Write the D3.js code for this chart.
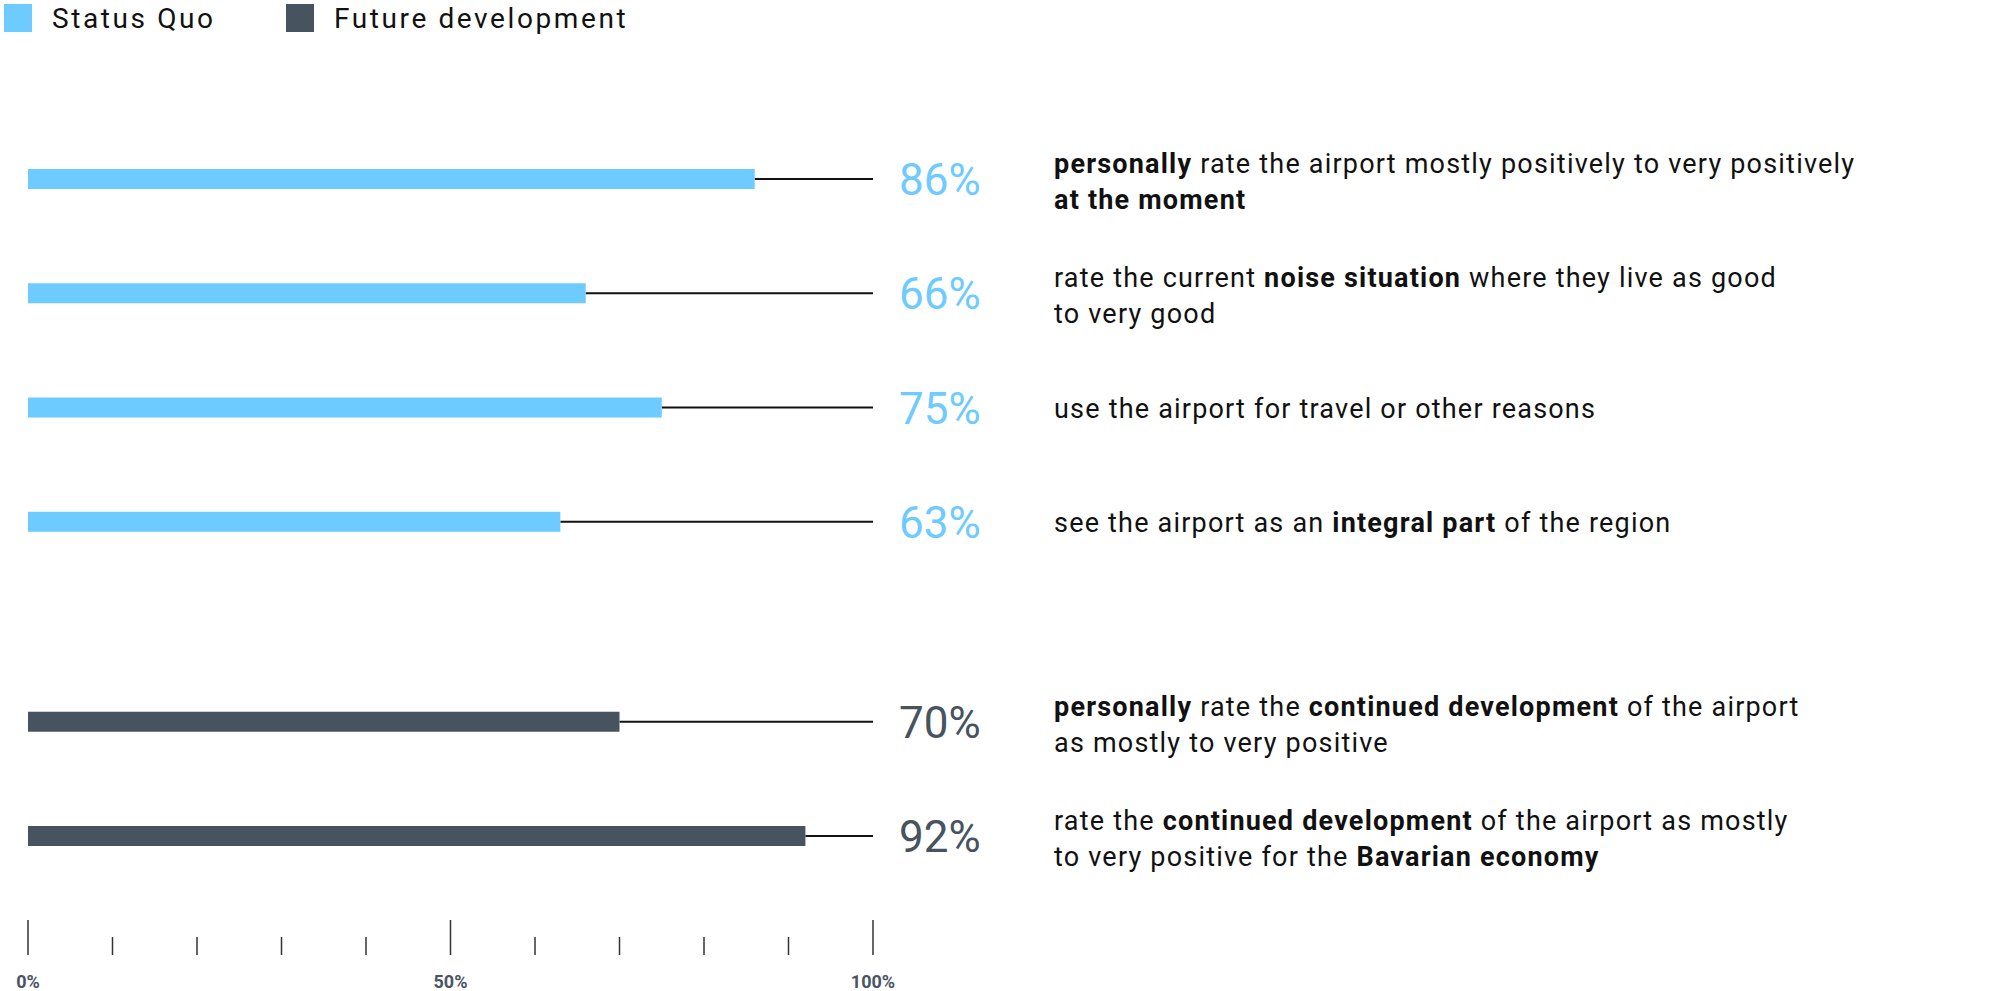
<!DOCTYPE html>
<meta charset="utf-8">
<style>
body { margin: 0; background: #fff; }
text { font-family: Roboto, "DejaVu Sans", sans-serif; }
.desc { font-size: 27px; fill: #111; letter-spacing: 1.2px; }
.val { font-size: 44px; font-weight: 400; }
.legend text { font-size: 28px; fill: #111; letter-spacing: 2.6px; }
.tick-label { font-size: 18px; font-weight: 700; fill: #4a5562; }
</style>
<body>
<script src="https://cdn.jsdelivr.net/npm/d3@7"></script>
<script>

// series / categories
var groups = ["Status Quo", "Future development"];
var groupColors = ["#6ecbff", "#47535f"];

var values = [86, 66, 75, 63, 70, 92];
var rowGroup = [0, 0, 0, 0, 1, 1];

// descriptions, "|" splits lines, ** marks bold
var descriptions = [
  "**personally** rate the airport mostly positively to very positively|**at the moment**",
  "rate the current **noise situation** where they live as good|to very good",
  "use the airport for travel or other reasons",
  "see the airport as an **integral part** of the region",
  "**personally** rate the **continued development** of the airport|as mostly to very positive",
  "rate the **continued development** of the airport as mostly|to very positive for the **Bavarian economy**"
];

var tickValues = [0, 10, 20, 30, 40, 50, 60, 70, 80, 90, 100];
var tickLabels = {0: "0%", 50: "50%", 100: "100%"};

var width = 1995, height = 991;

var svg = d3.select("body").append("svg")
    .attr("width", width)
    .attr("height", height);

var x = d3.scaleLinear().domain([0, 100]).range([28, 873]);

// slot per row, second group sits after a gap
var slot = function(i) { return i + (rowGroup[i] === 1 ? 0.75 : 0); };
var y = d3.scaleLinear().domain([0, 5.75]).range([179, 836]);

var barH = 20;

var rows = svg.selectAll(".row")
    .data(values)
  .enter().append("g")
    .attr("class", "row")
    .attr("transform", function(d, i) { return "translate(0," + y(slot(i)) + ")"; });

// thin line to 100%
rows.append("line")
    .attr("x1", function(d) { return x(d); })
    .attr("x2", x(100))
    .attr("y1", 0)
    .attr("y2", 0)
    .attr("stroke", "#111")
    .attr("stroke-width", 2);

rows.append("rect")
    .attr("x", x(0))
    .attr("y", -barH / 2)
    .attr("width", function(d) { return x(d) - x(0); })
    .attr("height", barH)
    .attr("fill", function(d, i) { return groupColors[rowGroup[i]]; });

rows.append("text")
    .attr("class", "val")
    .attr("x", 899)
    .attr("y", 16)
    .attr("fill", function(d, i) { return groupColors[rowGroup[i]]; })
    .text(function(d) { return d + "%"; });

// description text
rows.each(function(d, i) {
  var lines = descriptions[i].split("|");
  var g = d3.select(this);
  lines.forEach(function(line, li) {
    var yy = lines.length === 1 ? 10 : (li === 0 ? -6 : 30);
    var t = g.append("text")
        .attr("class", "desc")
        .attr("x", 1054)
        .attr("y", yy);
    line.split("**").forEach(function(part, pi) {
      if (!part) return;
      t.append("tspan")
          .attr("font-weight", pi % 2 === 1 ? 700 : 400)
          .text(part);
    });
  });
});

// legend
var legend = svg.append("g")
    .attr("class", "legend")
    .selectAll("g")
    .data(groups)
  .enter().append("g")
    .attr("transform", function(d, i) { return "translate(" + [4, 286][i] + ",4)"; });

legend.append("rect")
    .attr("width", 28)
    .attr("height", 28)
    .attr("fill", function(d, i) { return groupColors[i]; });

legend.append("text")
    .attr("x", 48)
    .attr("y", 24)
    .text(function(d) { return d; });

// axis ticks
var axis = svg.append("g");

axis.selectAll("line")
    .data(tickValues)
  .enter().append("line")
    .attr("x1", function(d) { return x(d); })
    .attr("x2", function(d) { return x(d); })
    .attr("y1", function(d) { return d % 50 === 0 ? 920 : 937; })
    .attr("y2", 955)
    .attr("stroke", "#333")
    .attr("stroke-width", 1.5);

axis.selectAll("text")
    .data(tickValues.filter(function(d) { return tickLabels[d]; }))
  .enter().append("text")
    .attr("class", "tick-label")
    .attr("x", function(d) { return x(d); })
    .attr("y", 988)
    .attr("text-anchor", "middle")
    .text(function(d) { return tickLabels[d]; });

</script>
</body>
